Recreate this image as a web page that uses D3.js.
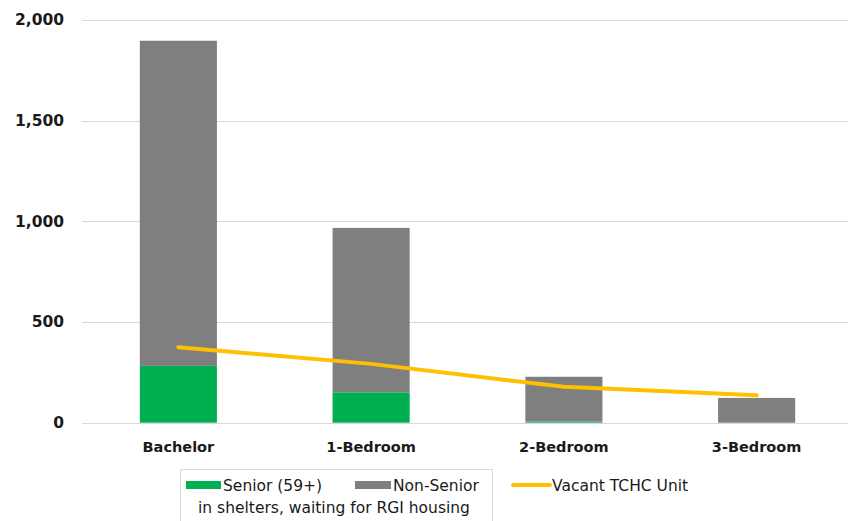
<!DOCTYPE html>
<html>
<head>
<meta charset="utf-8">
<script src="https://cdn.jsdelivr.net/npm/d3@7"></script>
<style>
  html, body { margin: 0; padding: 0; background: #ffffff; }
  svg { display: block; }
</style>
</head>
<body>
<svg id="chart" width="848" height="521"></svg>
<script>
// Unit types and the people waiting in shelters for RGI housing
const categories = ["Bachelor", "1-Bedroom", "2-Bedroom", "3-Bedroom"];
const seniorValues = [282, 151, 5, 0];
const nonSeniorValues = [1614, 816, 223, 123];
// Vacant TCHC units by type
const vacantValues = [375, 292, 178, 136];
const yTicks = [0, 500, 1000, 1500, 2000];

const svg = d3.select("#chart");
const W = 848, H = 521;
const margin = { left: 82, right: -5, top: 20, bottom: 98 };

const x = d3.scaleBand()
  .domain(categories)
  .range([margin.left, W - margin.right])
  .paddingInner(0.6)
  .paddingOuter(0.3);

const y = d3.scaleLinear()
  .domain([0, 2000])
  .range([422.7, 19.8]);

const font = "'DejaVu Sans', Verdana, sans-serif";

// gridlines
svg.append("g")
  .selectAll("line")
  .data(yTicks)
  .join("line")
  .attr("x1", margin.left)
  .attr("x2", W)
  .attr("y1", d => Math.round(y(d)) + 0.5)
  .attr("y2", d => Math.round(y(d)) + 0.5)
  .attr("stroke", "#d9d9d9")
  .attr("stroke-width", 1);

// y tick labels
const yAxis = d3.axisLeft(y)
  .tickValues(yTicks)
  .tickFormat(d3.format(","))
  .tickSize(0)
  .tickPadding(0);
const gy = svg.append("g").attr("transform", "translate(64,0)").call(yAxis);
gy.select(".domain").remove();
gy.selectAll("text")
  .attr("font-family", font)
  .attr("font-size", 15.5)
  .attr("font-weight", "bold")
  .attr("fill", "#1a1a1a");

// stacked bars
const stackData = categories.map((c, i) => ({ cat: c, senior: seniorValues[i], nonSenior: nonSeniorValues[i] }));
const series = d3.stack().keys(["senior", "nonSenior"])(stackData);
const colors = { senior: "#00b050", nonSenior: "#7f7f7f" };

svg.append("g")
  .selectAll("g")
  .data(series)
  .join("g")
  .attr("fill", d => colors[d.key])
  .selectAll("rect")
  .data(d => d)
  .join("rect")
  .attr("x", d => x(d.data.cat))
  .attr("width", x.bandwidth())
  .attr("y", d => y(d[1]))
  .attr("height", d => Math.max(0, y(d[0]) - y(d[1])));

// x category labels
const xAxis = d3.axisBottom(x).tickSize(0).tickPadding(0);
const gx = svg.append("g").attr("transform", "translate(0,452)").call(xAxis);
gx.select(".domain").remove();
gx.selectAll("text")
  .attr("dy", 0)
  .attr("font-family", font)
  .attr("font-size", 14.5)
  .attr("font-weight", "bold")
  .attr("fill", "#1a1a1a");

// vacant units line
const line = d3.line()
  .x((d, i) => x(categories[i]) + x.bandwidth() / 2)
  .y(d => y(d));
svg.append("path")
  .datum(vacantValues)
  .attr("d", line)
  .attr("fill", "none")
  .attr("stroke", "#ffc000")
  .attr("stroke-width", 4)
  .attr("stroke-linecap", "round")
  .attr("stroke-linejoin", "round");

// legend
const lg = svg.append("g");
lg.append("rect")
  .attr("x", 180.5).attr("y", 469.5)
  .attr("width", 312).attr("height", 60)
  .attr("fill", "none").attr("stroke", "#d9d9d9");
lg.append("rect").attr("x", 186).attr("y", 481).attr("width", 35).attr("height", 8).attr("fill", colors.senior);
lg.append("text").attr("x", 223).attr("y", 490.5).text("Senior (59+)");
lg.append("rect").attr("x", 355).attr("y", 481).attr("width", 36).attr("height", 8).attr("fill", colors.nonSenior);
lg.append("text").attr("x", 393).attr("y", 490.5).text("Non-Senior");
lg.append("text").attr("x", 334).attr("y", 513).attr("text-anchor", "middle").text("in shelters, waiting for RGI housing");
lg.append("line").attr("x1", 513).attr("x2", 550).attr("y1", 485).attr("y2", 485)
  .attr("stroke", "#ffc000").attr("stroke-width", 4).attr("stroke-linecap", "round");
lg.append("text").attr("x", 552).attr("y", 490.5).text("Vacant TCHC Unit");
lg.selectAll("text")
  .attr("font-family", font)
  .attr("font-size", 15.5)
  .attr("fill", "#1a1a1a");
</script>
</body>
</html>
